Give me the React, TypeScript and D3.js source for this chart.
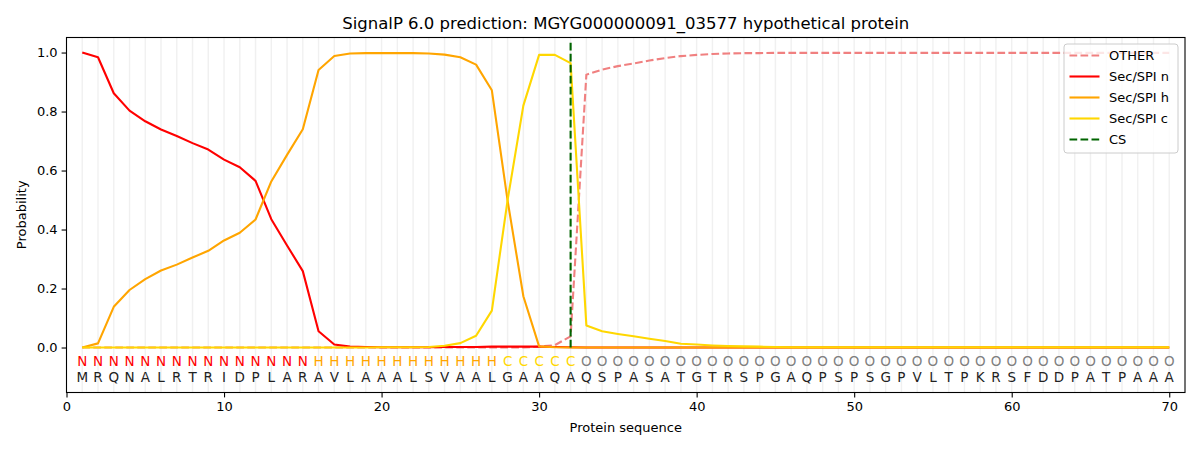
import { useEffect, useRef } from "react";
import * as d3 from "d3";

const sequence = "MRQNALRTRIDPLARAVLAAALSVAALGAAQAQSPASATGTRSPGAQPSPSGPVLTPKRSFDDPATPAAA".split("");

// region labels per residue: N (n-region), H (h-region), C (c-region), O (other)
const regionLabels = (
  "N".repeat(15) + "H".repeat(12) + "C".repeat(5) + "O".repeat(38)
).split("");

const secN = [
  1.0, 0.984, 0.862, 0.803, 0.767, 0.739, 0.717, 0.693, 0.671, 0.637,
  0.611, 0.565, 0.435, 0.346, 0.259, 0.055, 0.01, 0.003, 0.002, 0.001,
  0.001, 0.001, 0.001, 0.002, 0.002, 0.002, 0.003, 0.003, 0.003, 0.003,
  0.002, 0.001, 0.0, 0.0, 0.0, 0.0, 0.0, 0.0, 0.0, 0.0,
  0.0, 0.0, 0.0, 0.0, 0.0, 0.0, 0.0, 0.0, 0.0, 0.0,
  0.0, 0.0, 0.0, 0.0, 0.0, 0.0, 0.0, 0.0, 0.0, 0.0,
  0.0, 0.0, 0.0, 0.0, 0.0, 0.0, 0.0, 0.0, 0.0, 0.0,
];

const secH = [
  0.0, 0.014, 0.138, 0.195, 0.232, 0.261, 0.281, 0.305, 0.328, 0.363,
  0.389, 0.434, 0.563, 0.653, 0.74, 0.941, 0.988, 0.997, 0.998, 0.998,
  0.998, 0.998, 0.997, 0.993, 0.984, 0.959, 0.872, 0.498, 0.174, 0.004,
  0.001, 0.0, 0.0, 0.0, 0.0, 0.0, 0.0, 0.0, 0.0, 0.0,
  0.0, 0.0, 0.0, 0.0, 0.0, 0.0, 0.0, 0.0, 0.0, 0.0,
  0.0, 0.0, 0.0, 0.0, 0.0, 0.0, 0.0, 0.0, 0.0, 0.0,
  0.0, 0.0, 0.0, 0.0, 0.0, 0.0, 0.0, 0.0, 0.0, 0.0,
];

const secC = [
  0.0, 0.0, 0.0, 0.0, 0.0, 0.0, 0.0, 0.0, 0.0, 0.0,
  0.0, 0.0, 0.0, 0.0, 0.0, 0.0, 0.0, 0.0, 0.0, 0.001,
  0.001, 0.001, 0.002, 0.006, 0.015, 0.04, 0.125, 0.5, 0.82, 0.992,
  0.992, 0.964, 0.075, 0.055, 0.046, 0.038, 0.03, 0.022, 0.013, 0.01,
  0.007, 0.005, 0.004, 0.003, 0.002, 0.001, 0.001, 0.001, 0.001, 0.001,
  0.001, 0.001, 0.001, 0.001, 0.001, 0.001, 0.001, 0.001, 0.001, 0.001,
  0.001, 0.001, 0.001, 0.001, 0.001, 0.001, 0.001, 0.001, 0.001, 0.001,
];

const other = [
  0.0, 0.0, 0.0, 0.0, 0.0, 0.0, 0.0, 0.0, 0.0, 0.0,
  0.0, 0.0, 0.0, 0.0, 0.0, 0.0, 0.0, 0.0, 0.0, 0.0,
  0.0, 0.0, 0.0, 0.0, 0.0, 0.0, 0.0, 0.0, 0.0, 0.003,
  0.008, 0.038, 0.925, 0.942, 0.954, 0.963, 0.973, 0.981, 0.988, 0.992,
  0.995, 0.997, 0.998, 0.998, 0.999, 0.999, 0.999, 0.999, 0.999, 0.999,
  0.999, 0.999, 0.999, 0.999, 0.999, 0.999, 0.999, 0.999, 0.999, 0.999,
  0.999, 0.999, 0.999, 0.999, 0.999, 0.999, 0.999, 0.999, 0.999, 0.999,
];

const cleavageSite = 32;
const xTicks = [0, 10, 20, 30, 40, 50, 60, 70];
const yTicks = [0.0, 0.2, 0.4, 0.6, 0.8, 1.0];

const labelColors: Record<string, string> = {
  N: "red",
  H: "orange",
  C: "gold",
  O: "gray",
};

export default function App() {
  const svgRef = useRef<SVGSVGElement>(null);

  useEffect(() => {
    if (!svgRef.current) return;
    document.body.style.margin = "0";
    d3.select(svgRef.current).selectAll("*").remove();

    const width = 1200;
    const height = 450;
    const margin = { top: 37.5, right: 15, bottom: 57.5, left: 66.5 };
    const font = "DejaVu Sans, sans-serif";

    const svg = d3
      .select(svgRef.current)
      .attr("width", width)
      .attr("height", height)
      .attr("viewBox", `0 0 ${width} ${height}`)
      .style("font-family", font)
      .style("display", "block");

    svg.append("rect").attr("width", width).attr("height", height).attr("fill", "#fff");

    const x = d3.scaleLinear().domain([0, 71]).range([margin.left, width - margin.right]);
    const y = d3.scaleLinear().domain([-0.1525, 1.051]).range([height - margin.bottom, margin.top]);

    const positions = d3.range(1, sequence.length + 1);

    // light vertical guides at each residue
    svg
      .append("g")
      .selectAll("line")
      .data(positions)
      .enter()
      .append("line")
      .attr("x1", (d) => x(d))
      .attr("x2", (d) => x(d))
      .attr("y1", y(-0.1525))
      .attr("y2", y(1.051))
      .attr("stroke", "#808080")
      .attr("stroke-opacity", 0.12)
      .attr("stroke-width", 1.4);

    const line = d3
      .line<number>()
      .x((_, i) => x(i + 1))
      .y((d) => y(d));

    const series = [
      { name: "OTHER", values: other, color: "lightcoral", dash: "7.7,3.3" },
      { name: "Sec/SPI n", values: secN, color: "red", dash: null },
      { name: "Sec/SPI h", values: secH, color: "orange", dash: null },
      { name: "Sec/SPI c", values: secC, color: "gold", dash: null },
    ];

    series.forEach((s) => {
      svg
        .append("path")
        .datum(s.values)
        .attr("d", line)
        .attr("fill", "none")
        .attr("stroke", s.color)
        .attr("stroke-width", 2.1)
        .attr("stroke-linejoin", "round")
        .attr("stroke-dasharray", s.dash);
    });

    // cleavage site
    svg
      .append("line")
      .attr("x1", x(cleavageSite))
      .attr("x2", x(cleavageSite))
      .attr("y1", y(0))
      .attr("y2", y(1.035))
      .attr("stroke", "darkgreen")
      .attr("stroke-width", 2.1)
      .attr("stroke-dasharray", "7.7,3.3");

    // region letters and residues
    svg
      .append("g")
      .selectAll("text")
      .data(regionLabels)
      .enter()
      .append("text")
      .attr("x", (_, i) => x(i + 1))
      .attr("y", y(-0.047))
      .attr("dy", "0.36em")
      .attr("text-anchor", "middle")
      .attr("font-size", 13.5)
      .attr("fill", (d) => labelColors[d])
      .text((d) => d);

    svg
      .append("g")
      .selectAll("text")
      .data(sequence)
      .enter()
      .append("text")
      .attr("x", (_, i) => x(i + 1))
      .attr("y", y(-0.1))
      .attr("dy", "0.36em")
      .attr("text-anchor", "middle")
      .attr("font-size", 13.5)
      .attr("fill", "#222")
      .text((d) => d);

    // axes
    const xAxis = svg
      .append("g")
      .attr("transform", `translate(0, ${height - margin.bottom})`)
      .call(d3.axisBottom(x).tickValues(xTicks).tickSize(4.9).tickPadding(4).tickFormat((d) => String(d)));
    const yAxis = svg
      .append("g")
      .attr("transform", `translate(${margin.left}, 0)`)
      .call(d3.axisLeft(y).tickValues(yTicks).tickSize(4.9).tickPadding(4).tickFormat(d3.format(".1f")));

    [xAxis, yAxis].forEach((a) => {
      a.select(".domain").remove();
      a.selectAll("text").attr("font-size", 13).attr("font-family", font).attr("fill", "#000");
      a.selectAll("line").attr("stroke", "#000").attr("stroke-width", 1.1);
    });

    // frame
    svg
      .append("rect")
      .attr("x", margin.left)
      .attr("y", margin.top)
      .attr("width", width - margin.left - margin.right)
      .attr("height", height - margin.top - margin.bottom)
      .attr("fill", "none")
      .attr("stroke", "#000")
      .attr("stroke-width", 1.1);

    // labels
    svg
      .append("text")
      .attr("x", (margin.left + width - margin.right) / 2)
      .attr("y", 23.5)
      .attr("dy", "0.36em")
      .attr("text-anchor", "middle")
      .attr("font-size", 16.5)
      .text("SignalP 6.0 prediction: MGYG000000091_03577 hypothetical protein");

    svg
      .append("text")
      .attr("x", (margin.left + width - margin.right) / 2)
      .attr("y", 427.5)
      .attr("dy", "0.36em")
      .attr("text-anchor", "middle")
      .attr("font-size", 13)
      .text("Protein sequence");

    svg
      .append("text")
      .attr("transform", `translate(21.5, ${y(0.45)}) rotate(-90)`)
      .attr("dy", "0.36em")
      .attr("text-anchor", "middle")
      .attr("font-size", 13)
      .text("Probability");

    // legend
    const legendItems = [
      ...series.map((s) => ({ name: s.name, color: s.color, dash: s.dash })),
      { name: "CS", color: "darkgreen", dash: "7.7,3.3" },
    ];
    const legend = svg.append("g").attr("transform", "translate(1064, 44)");
    legend
      .append("rect")
      .attr("width", 114)
      .attr("height", 109)
      .attr("rx", 3)
      .attr("fill", "#fff")
      .attr("fill-opacity", 0.8)
      .attr("stroke", "#ccc")
      .attr("stroke-width", 1);
    legendItems.forEach((item, i) => {
      const ly = 11.5 + i * 21;
      legend
        .append("line")
        .attr("x1", 5.5)
        .attr("x2", 35.5)
        .attr("y1", ly)
        .attr("y2", ly)
        .attr("stroke", item.color)
        .attr("stroke-width", 2.1)
        .attr("stroke-dasharray", item.dash);
      legend
        .append("text")
        .attr("x", 45)
        .attr("y", ly)
        .attr("dy", "0.36em")
        .attr("font-size", 13)
        .text(item.name);
    });
  }, []);

  return <svg ref={svgRef}></svg>;
}
